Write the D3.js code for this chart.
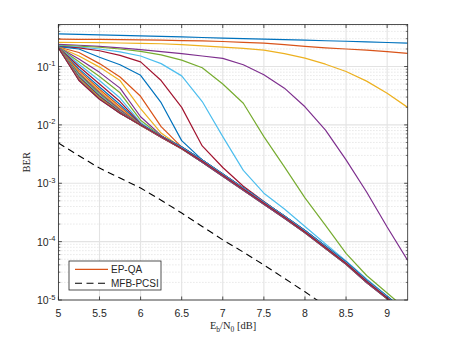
<!DOCTYPE html>
<html>
<head>
<meta charset="utf-8">
<script src="https://cdn.jsdelivr.net/npm/d3@7"></script>
<style>
  body { margin: 0; background: #fff; }
  svg { display: block; }
  .tick-label { font-family: "Liberation Sans", Arial, sans-serif; font-size: 10.5px; fill: #262626; }
  .axis-title { font-family: "Liberation Serif", "Times New Roman", serif; font-size: 10.5px; fill: #262626; }
  .legend-label { font-family: "Liberation Sans", Arial, sans-serif; font-size: 10px; fill: #262626; }
</style>
</head>
<body>
<svg id="chart" width="450" height="338"></svg>
<script>
// Eb/N0 points [dB]
var ebN0 = [5, 5.25, 5.5, 5.75, 6, 6.25, 6.5, 6.75, 7, 7.25, 7.5, 7.75, 8, 8.25, 8.5, 8.75, 9, 9.25];
var ebN0Bound = [5, 5.25, 5.5, 5.75, 6, 6.25, 6.5, 6.75, 7, 7.25, 7.5, 7.75, 8, 8.25];

var xTicks = [5, 5.5, 6, 6.5, 7, 7.5, 8, 8.5, 9];
var xTickLabels = ["5", "5.5", "6", "6.5", "7", "7.5", "8", "8.5", "9"];
var yTicks = [1e-5, 1e-4, 1e-3, 1e-2, 1e-1];
var yTickExponents = ["-5", "-4", "-3", "-2", "-1"];

var legendLabels = ["EP-QA", "MFB-PCSI"];

// log10(BER) of the EP-QA curves (one row per curve)
var epqaLogBer = [
  [-0.44, -0.448, -0.457, -0.466, -0.475, -0.484, -0.493, -0.503, -0.513, -0.522, -0.531, -0.54, -0.549, -0.558, -0.567, -0.577, -0.588, -0.60],
  [-0.53, -0.533, -0.536, -0.54, -0.544, -0.549, -0.555, -0.562, -0.571, -0.585, -0.60, -0.625, -0.655, -0.68, -0.70, -0.72, -0.745, -0.775],
  [-0.585, -0.588, -0.592, -0.597, -0.603, -0.61, -0.625, -0.645, -0.667, -0.69, -0.72, -0.78, -0.856, -0.96, -1.086, -1.25, -1.456, -1.70],
  [-0.62, -0.635, -0.655, -0.68, -0.71, -0.745, -0.78, -0.82, -0.86, -0.97, -1.14, -1.37, -1.69, -2.09, -2.60, -3.15, -3.75, -4.32],
  [-0.635, -0.65, -0.67, -0.70, -0.74, -0.80, -0.89, -1.02, -1.30, -1.63, -2.20, -2.72, -3.25, -3.72, -4.20, -4.58, -4.88, -5.18],
  [-0.645, -0.665, -0.70, -0.75, -0.82, -0.95, -1.16, -1.60, -2.20, -2.78, -3.17, -3.44, -3.74, -4.04, -4.33, -4.64, -4.93, -5.22],
  [-0.655, -0.68, -0.73, -0.81, -0.92, -1.24, -1.70, -2.36, -2.73, -3.05, -3.31, -3.57, -3.82, -4.09, -4.36, -4.67, -4.95, -5.25],
  [-0.66, -0.70, -0.84, -0.97, -1.15, -1.62, -2.27, -2.60, -2.85, -3.09, -3.33, -3.57, -3.82, -4.09, -4.36, -4.67, -4.95, -5.25],
  [-0.665, -0.76, -0.95, -1.18, -1.51, -2.03, -2.38, -2.61, -2.85, -3.10, -3.34, -3.58, -3.83, -4.10, -4.37, -4.68, -4.96, -5.26],
  [-0.665, -0.82, -1.01, -1.24, -1.72, -2.14, -2.39, -2.61, -2.86, -3.10, -3.34, -3.58, -3.83, -4.10, -4.37, -4.68, -4.96, -5.26],
  [-0.67, -0.87, -1.10, -1.37, -1.86, -2.18, -2.40, -2.62, -2.86, -3.11, -3.35, -3.59, -3.84, -4.11, -4.38, -4.69, -4.97, -5.27],
  [-0.67, -0.92, -1.17, -1.45, -1.92, -2.19, -2.38, -2.60, -2.84, -3.08, -3.32, -3.56, -3.81, -4.08, -4.35, -4.66, -4.94, -5.24],
  [-0.67, -0.96, -1.24, -1.54, -1.96, -2.20, -2.41, -2.64, -2.88, -3.12, -3.36, -3.60, -3.85, -4.12, -4.39, -4.70, -4.98, -5.28],
  [-0.675, -1.00, -1.30, -1.60, -1.98, -2.20, -2.40, -2.62, -2.86, -3.10, -3.34, -3.58, -3.83, -4.10, -4.37, -4.68, -4.96, -5.26],
  [-0.675, -1.04, -1.35, -1.65, -1.99, -2.19, -2.38, -2.60, -2.84, -3.08, -3.32, -3.56, -3.81, -4.08, -4.35, -4.66, -4.94, -5.24],
  [-0.675, -1.07, -1.39, -1.69, -2.00, -2.21, -2.41, -2.64, -2.88, -3.12, -3.36, -3.60, -3.85, -4.12, -4.39, -4.70, -4.98, -5.28],
  [-0.68, -1.10, -1.42, -1.72, -2.00, -2.20, -2.40, -2.62, -2.86, -3.10, -3.34, -3.58, -3.83, -4.10, -4.37, -4.68, -4.96, -5.26],
  [-0.68, -1.12, -1.45, -1.74, -2.00, -2.19, -2.38, -2.60, -2.84, -3.08, -3.32, -3.56, -3.81, -4.08, -4.35, -4.66, -4.94, -5.24],
  [-0.68, -1.14, -1.47, -1.76, -2.00, -2.21, -2.41, -2.64, -2.88, -3.12, -3.36, -3.60, -3.85, -4.12, -4.39, -4.70, -4.98, -5.28],
  [-0.68, -1.16, -1.49, -1.77, -2.01, -2.20, -2.40, -2.62, -2.86, -3.10, -3.34, -3.58, -3.83, -4.10, -4.37, -4.68, -4.96, -5.26],
  [-0.68, -1.18, -1.51, -1.78, -2.00, -2.20, -2.40, -2.62, -2.86, -3.10, -3.34, -3.58, -3.83, -4.10, -4.37, -4.68, -4.96, -5.26],
  [-0.68, -1.19, -1.52, -1.79, -2.00, -2.19, -2.38, -2.60, -2.84, -3.08, -3.32, -3.56, -3.81, -4.08, -4.35, -4.66, -4.94, -5.24],
  [-0.68, -1.20, -1.53, -1.79, -2.01, -2.21, -2.41, -2.63, -2.87, -3.11, -3.35, -3.59, -3.84, -4.11, -4.38, -4.69, -4.97, -5.27],
  [-0.68, -1.21, -1.54, -1.80, -2.00, -2.20, -2.40, -2.62, -2.86, -3.10, -3.34, -3.58, -3.83, -4.10, -4.37, -4.68, -4.96, -5.26],
  [-0.68, -1.22, -1.55, -1.80, -2.00, -2.21, -2.41, -2.64, -2.88, -3.12, -3.36, -3.60, -3.85, -4.12, -4.39, -4.70, -4.98, -5.28],
  [-0.68, -1.23, -1.55, -1.80, -2.00, -2.20, -2.40, -2.62, -2.86, -3.10, -3.34, -3.58, -3.83, -4.10, -4.37, -4.68, -4.96, -5.26],
  [-0.68, -1.235, -1.56, -1.80, -2.00, -2.20, -2.39, -2.61, -2.85, -3.09, -3.33, -3.57, -3.82, -4.09, -4.36, -4.67, -4.95, -5.25],
  [-0.68, -1.24, -1.56, -1.80, -2.00, -2.20, -2.40, -2.62, -2.86, -3.10, -3.34, -3.58, -3.83, -4.10, -4.37, -4.68, -4.96, -5.26]
];

// log10(BER) of the MFB-PCSI bound
var mfbPcsiLogBer = [-2.31, -2.53, -2.74, -2.91, -3.08, -3.29, -3.51, -3.74, -3.97, -4.18, -4.40, -4.63, -4.86, -5.10];

var lineColors = ["#0072BD", "#D95319", "#EDB120", "#7E2F8E", "#77AC30", "#4DBEEE", "#A2142F"];


class BerChart {

  constructor(target) {
    this.svg = d3.select(target);
    this.left = 58.4;
    this.right = 407.7;
    this.top = 24.5;
    this.bottom = 300;
    this.x = d3.scaleLinear().domain([5, 9.25]).range([this.left, this.right]);
    this.y = d3.scaleLog().domain([1e-5, 0.525]).range([this.bottom, this.top]);
    this.axisColor = "#262626";
  }

  _minorTicks() {
    var out = [];
    for (var k = -5; k <= -1; k++) {
      for (var m = 2; m <= 9; m++) {
        var v = m * Math.pow(10, k);
        if (v < 0.525) out.push(v);
      }
    }
    return out;
  }

  _renderGrid() {
    var self = this;
    var g = self.svg.append("g");

    g.selectAll(".ygrid-minor")
      .data(self._minorTicks())
      .enter().append("line")
        .attr("x1", self.left).attr("x2", self.right)
        .attr("y1", function(d) { return self.y(d); })
        .attr("y2", function(d) { return self.y(d); })
        .attr("stroke", "#cfcfcf")
        .attr("stroke-width", 0.7)
        .attr("stroke-dasharray", "1,2");

    g.selectAll(".xgrid")
      .data(xTicks)
      .enter().append("line")
        .attr("x1", function(d) { return self.x(d); })
        .attr("x2", function(d) { return self.x(d); })
        .attr("y1", self.top).attr("y2", self.bottom)
        .attr("stroke", "#e3e3e3")
        .attr("stroke-width", 1.1);

    g.selectAll(".ygrid")
      .data(yTicks)
      .enter().append("line")
        .attr("x1", self.left).attr("x2", self.right)
        .attr("y1", function(d) { return self.y(d); })
        .attr("y2", function(d) { return self.y(d); })
        .attr("stroke", "#e3e3e3")
        .attr("stroke-width", 1.1);
  }

  _renderCurves() {
    var self = this;

    self.svg.append("clipPath").attr("id", "plot-clip")
      .append("rect")
        .attr("x", self.left).attr("y", self.top)
        .attr("width", self.right - self.left)
        .attr("height", self.bottom - self.top);

    var line = d3.line()
      .x(function(d) { return self.x(d[0]); })
      .y(function(d) { return self.y(Math.pow(10, d[1])); });

    var g = self.svg.append("g").attr("clip-path", "url(#plot-clip)");

    g.selectAll(".ber-curve")
      .data(epqaLogBer)
      .enter().append("path")
        .attr("class", "ber-curve")
        .attr("d", function(d) { return line(d3.zip(ebN0, d)); })
        .attr("fill", "none")
        .attr("stroke", function(d, i) { return lineColors[i % lineColors.length]; })
        .attr("stroke-width", 1.2)
        .attr("stroke-linejoin", "round");

    g.append("path")
      .attr("d", line(d3.zip(ebN0Bound, mfbPcsiLogBer)))
      .attr("fill", "none")
      .attr("stroke", "#000")
      .attr("stroke-width", 1.1)
      .attr("stroke-dasharray", "7,4.5");
  }

  _renderAxes() {
    var self = this;
    var g = self.svg.append("g");
    var tickLen = 3.5;

    // ticks on all four sides, pointing inwards
    xTicks.forEach(function(v) {
      var px = self.x(v);
      g.append("line").attr("x1", px).attr("x2", px)
        .attr("y1", self.bottom).attr("y2", self.bottom - tickLen)
        .attr("stroke", self.axisColor).attr("stroke-width", 0.8);
      g.append("line").attr("x1", px).attr("x2", px)
        .attr("y1", self.top).attr("y2", self.top + tickLen)
        .attr("stroke", self.axisColor).attr("stroke-width", 0.8);
    });
    yTicks.forEach(function(v) {
      var py = self.y(v);
      g.append("line").attr("x1", self.left).attr("x2", self.left + tickLen)
        .attr("y1", py).attr("y2", py)
        .attr("stroke", self.axisColor).attr("stroke-width", 0.8);
      g.append("line").attr("x1", self.right).attr("x2", self.right - tickLen)
        .attr("y1", py).attr("y2", py)
        .attr("stroke", self.axisColor).attr("stroke-width", 0.8);
    });
    self._minorTicks().forEach(function(v) {
      var py = self.y(v);
      g.append("line").attr("x1", self.left).attr("x2", self.left + 2)
        .attr("y1", py).attr("y2", py)
        .attr("stroke", self.axisColor).attr("stroke-width", 0.6);
      g.append("line").attr("x1", self.right).attr("x2", self.right - 2)
        .attr("y1", py).attr("y2", py)
        .attr("stroke", self.axisColor).attr("stroke-width", 0.6);
    });

    g.append("rect")
      .attr("x", self.left).attr("y", self.top)
      .attr("width", self.right - self.left)
      .attr("height", self.bottom - self.top)
      .attr("fill", "none")
      .attr("stroke", self.axisColor)
      .attr("stroke-width", 0.8);

    g.selectAll(".x-label")
      .data(xTicks)
      .enter().append("text")
        .attr("class", "tick-label")
        .attr("x", function(d) { return self.x(d); })
        .attr("y", self.bottom + 16.5)
        .attr("text-anchor", "middle")
        .text(function(d, i) { return xTickLabels[i]; });

    var yl = g.selectAll(".y-label")
      .data(yTicks)
      .enter().append("text")
        .attr("class", "tick-label")
        .attr("x", self.left - 3)
        .attr("y", function(d) { return self.y(d) + 4; })
        .attr("text-anchor", "end");
    yl.append("tspan").text("10");
    yl.append("tspan")
      .attr("dy", -4.5)
      .style("font-size", "7.5px")
      .text(function(d, i) { return yTickExponents[i]; });

    // axis titles
    var xt = self.svg.append("text")
      .attr("class", "axis-title")
      .attr("x", (self.left + self.right) / 2)
      .attr("y", 329)
      .attr("text-anchor", "middle");
    xt.append("tspan").text("E");
    xt.append("tspan").attr("dy", 3).style("font-size", "7.5px").text("b");
    xt.append("tspan").attr("dy", -3).text("/N");
    xt.append("tspan").attr("dy", 3).style("font-size", "7.5px").text("0");
    xt.append("tspan").attr("dy", -3).text(" [dB]");

    self.svg.append("text")
      .attr("class", "axis-title")
      .attr("transform", "translate(30," + ((self.top + self.bottom) / 2) + ") rotate(-90)")
      .attr("text-anchor", "middle")
      .text("BER");
  }

  _renderLegend() {
    var self = this;
    var g = self.svg.append("g");

    g.append("rect")
      .attr("x", 69).attr("y", 261)
      .attr("width", 92).attr("height", 29)
      .attr("fill", "#fff")
      .attr("stroke", self.axisColor)
      .attr("stroke-width", 0.8);

    var items = g.selectAll(".legend-item")
      .data(legendLabels)
      .enter().append("g")
        .attr("transform", function(d, i) { return "translate(0," + (269.3 + i * 14) + ")"; });

    items.append("line")
      .attr("x1", 75).attr("x2", 108)
      .attr("y1", 0).attr("y2", 0)
      .attr("stroke", function(d, i) { return i == 0 ? lineColors[1] : "#000"; })
      .attr("stroke-width", function(d, i) { return i == 0 ? 1.2 : 1.1; })
      .attr("stroke-dasharray", function(d, i) { return i == 0 ? null : "7,4.5"; });

    items.append("text")
      .attr("class", "legend-label")
      .attr("x", 111)
      .attr("y", 3.6)
      .text(function(d) { return d; });
  }

  render() {
    this._renderGrid();
    this._renderCurves();
    this._renderAxes();
    this._renderLegend();
  }
}

new BerChart("#chart").render();
</script>
</body>
</html>
